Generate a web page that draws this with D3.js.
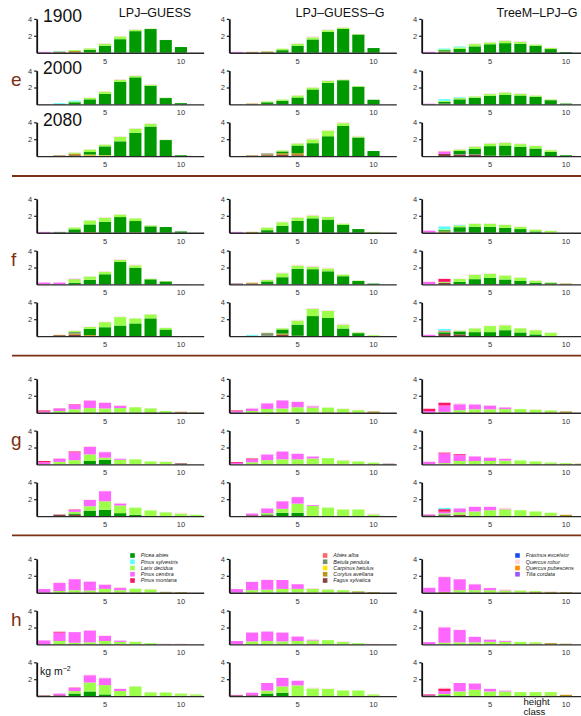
<!DOCTYPE html>
<html>
<head>
<meta charset="utf-8">
<script src="https://cdn.jsdelivr.net/npm/d3@7/dist/d3.min.js"></script>
<style>
  html, body { margin: 0; padding: 0; background: #fff; }
  svg { display: block; font-family: "Liberation Sans", Arial, Helvetica, sans-serif; }
</style>
</head>
<body>
<script>
// ---- categories and labels ----
const heightClasses = [1, 2, 3, 4, 5, 6, 7, 8, 9, 10, 11];
const xTickValues = [5, 10];
const yTickValues = [2, 4];
const groupLabels = ["e", "f", "g", "h"];
const yearLabels = ["1900", "2000", "2080"];
const modelNames = ["LPJ–GUESS", "LPJ–GUESS–G", "TreeM–LPJ–G"];

// ---- species ----
const speciesCodes = ["PA", "PS", "LD", "PC", "PM", "AA", "BP", "CB", "CA", "FS", "FE", "QR", "QP", "TC"];
const speciesNames = ["Picea abies", "Pinus sylvestris", "Larix decidua", "Pinus cembra", "Pinus montana",
  "Abies alba", "Betula pendula", "Carpinus betulus", "Corylus avellana", "Fagus sylvatica",
  "Fraxinus excelsior", "Quercus robur", "Quercus pubescens", "Tilia cordata"];
const speciesColors = ["#009a00", "#5cffff", "#9cff4a", "#ff66ff", "#ff1466",
  "#ff6666", "#748f6c", "#ffe600", "#b8961c", "#884040",
  "#1a4cf0", "#ffd8e0", "#ff8c00", "#9a55ff"];
// bottom-to-top order of the stacked segments
const stackOrder = ["FS", "CA", "BP", "CB", "QP", "PA", "LD", "PC", "PM", "AA", "PS", "FE", "TC", "QR"];

// ---- biomass per height class (kg m-2), one array per panel ----
// group e
const e_1900_lpj = [
  ["FS", [0, 0.05, 0.05, 0, 0, 0, 0, 0, 0, 0, 0]],
  ["CA", [0, 0.1, 0.15, 0.05, 0, 0, 0, 0, 0, 0, 0]],
  ["PA", [0, 0, 0, 0.3, 0.83, 1.6, 2.55, 2.8, 1.5, 0.67, 0]],
  ["LD", [0, 0, 0.1, 0.17, 0.24, 0.32, 0.17, 0.05, 0, 0, 0]],
  ["PC", [0.1, 0, 0, 0, 0, 0, 0, 0, 0, 0, 0]],
  ["PS", [0, 0.05, 0, 0, 0, 0, 0, 0, 0, 0, 0]],
  ["QR", [0, 0, 0, 0.03, 0.08, 0.08, 0.08, 0.05, 0.03, 0, 0.05]]
];
const e_1900_lpjg = [
  ["FS", [0, 0.05, 0.05, 0, 0, 0, 0, 0, 0, 0, 0]],
  ["CA", [0, 0.05, 0.1, 0, 0, 0, 0, 0, 0, 0, 0]],
  ["PA", [0, 0, 0, 0.3, 0.83, 1.57, 2.47, 2.82, 2.15, 0.55, 0]],
  ["LD", [0, 0, 0.03, 0.17, 0.24, 0.25, 0.2, 0.15, 0.05, 0, 0]],
  ["PC", [0.1, 0, 0, 0, 0, 0, 0, 0, 0, 0, 0]],
  ["QR", [0, 0, 0.02, 0.03, 0.08, 0.13, 0.08, 0.08, 0.03, 0, 0]]
];
const e_1900_treem = [
  ["FS", [0, 0.1, 0.05, 0, 0, 0, 0, 0, 0, 0, 0]],
  ["CA", [0, 0.05, 0, 0, 0, 0, 0, 0, 0, 0, 0]],
  ["PA", [0, 0.15, 0.4, 0.75, 1.0, 1.13, 1.06, 0.82, 0.43, 0.08, 0]],
  ["LD", [0, 0.1, 0.18, 0.27, 0.22, 0.27, 0.23, 0.15, 0.12, 0, 0]],
  ["PC", [0.1, 0, 0, 0, 0, 0, 0, 0, 0, 0, 0]],
  ["PS", [0, 0.1, 0.12, 0, 0, 0, 0, 0, 0, 0, 0]],
  ["QR", [0, 0, 0.03, 0.08, 0.08, 0.1, 0.08, 0.05, 0.05, 0, 0]]
];
const e_2000_lpj = [
  ["FS", [0.03, 0.05, 0, 0, 0, 0, 0, 0, 0, 0, 0]],
  ["PA", [0, 0, 0.25, 0.6, 1.25, 2.67, 3.2, 2.2, 0.75, 0.15, 0]],
  ["LD", [0, 0, 0.1, 0.17, 0.27, 0.25, 0.17, 0.12, 0.04, 0, 0]],
  ["PS", [0, 0.1, 0.1, 0, 0, 0, 0, 0, 0, 0, 0]],
  ["QR", [0, 0, 0, 0.05, 0.08, 0.08, 0.08, 0.08, 0.03, 0, 0]]
];
const e_2000_lpjg = [
  ["FS", [0.02, 0.05, 0, 0, 0, 0, 0, 0, 0, 0, 0]],
  ["CA", [0, 0.05, 0.05, 0, 0, 0, 0, 0, 0, 0, 0]],
  ["PA", [0, 0, 0.2, 0.43, 0.82, 1.77, 2.55, 2.86, 2.1, 0.55, 0]],
  ["LD", [0, 0, 0.1, 0.15, 0.23, 0.22, 0.23, 0.07, 0.07, 0, 0]],
  ["QR", [0, 0, 0, 0.04, 0.05, 0.05, 0.08, 0.05, 0.03, 0, 0]]
];
const e_2000_treem = [
  ["FS", [0.05, 0.1, 0.05, 0, 0, 0, 0, 0, 0, 0, 0]],
  ["PA", [0, 0.2, 0.55, 0.78, 1.02, 1.14, 1.05, 0.9, 0.5, 0.1, 0]],
  ["LD", [0, 0.12, 0.15, 0.17, 0.2, 0.28, 0.2, 0.15, 0.09, 0, 0]],
  ["PC", [0.03, 0, 0, 0, 0, 0, 0, 0, 0, 0, 0]],
  ["PS", [0, 0.2, 0.1, 0, 0, 0, 0, 0, 0, 0, 0]],
  ["QR", [0, 0, 0.05, 0.05, 0.08, 0.08, 0.08, 0.05, 0.03, 0, 0]]
];
const e_2080_lpj = [
  ["FS", [0, 0.05, 0.1, 0, 0, 0, 0, 0, 0, 0, 0]],
  ["CA", [0, 0.05, 0.2, 0.1, 0.05, 0, 0, 0, 0, 0, 0]],
  ["CB", [0, 0, 0, 0.08, 0.05, 0, 0, 0, 0, 0, 0]],
  ["PA", [0, 0, 0, 0.3, 1.05, 1.75, 2.75, 3.5, 1.9, 0.1, 0]],
  ["LD", [0, 0, 0.12, 0.3, 0.2, 0.52, 0.5, 0.32, 0.03, 0, 0]],
  ["QR", [0, 0, 0.05, 0.04, 0.05, 0.08, 0.08, 0.08, 0.03, 0, 0]]
];
const e_2080_lpjg = [
  ["FS", [0, 0.05, 0.1, 0.15, 0.1, 0, 0, 0, 0, 0, 0]],
  ["CA", [0, 0.05, 0.1, 0.2, 0.25, 0, 0, 0, 0, 0, 0]],
  ["BP", [0, 0, 0.13, 0, 0, 0, 0, 0, 0, 0, 0]],
  ["PA", [0, 0, 0, 0.2, 0.9, 1.53, 2.35, 3.57, 2.2, 0.6, 0]],
  ["LD", [0, 0, 0, 0.12, 0.25, 0.45, 0.67, 0.33, 0.12, 0, 0]],
  ["QR", [0, 0, 0.05, 0.03, 0.06, 0.12, 0.08, 0.1, 0.08, 0, 0]]
];
const e_2080_treem = [
  ["FS", [0, 0.25, 0.15, 0.15, 0.05, 0.05, 0, 0, 0, 0, 0]],
  ["BP", [0, 0, 0.1, 0.1, 0, 0, 0, 0, 0, 0, 0]],
  ["PA", [0, 0, 0.35, 0.61, 1.13, 1.2, 1.1, 0.9, 0.5, 0.1, 0]],
  ["LD", [0, 0, 0.18, 0.26, 0.31, 0.33, 0.32, 0.3, 0.2, 0, 0]],
  ["PC", [0, 0.25, 0, 0, 0, 0, 0, 0, 0, 0, 0]],
  ["PM", [0, 0.05, 0, 0, 0, 0, 0, 0, 0, 0, 0]],
  ["QR", [0, 0.07, 0.08, 0.08, 0.08, 0.1, 0.08, 0.05, 0.05, 0, 0]]
];

// group f
const f_1900_lpj = [
  ["CA", [0, 0, 0, 0.08, 0, 0, 0.05, 0, 0, 0, 0]],
  ["BP", [0, 0.1, 0, 0, 0, 0, 0, 0, 0, 0, 0]],
  ["PA", [0, 0, 0.4, 0.9, 1.3, 1.85, 1.33, 0.75, 0.67, 0.15, 0]],
  ["LD", [0, 0, 0.22, 0.47, 0.47, 0.3, 0.32, 0.12, 0, 0, 0]],
  ["PC", [0.1, 0, 0, 0, 0, 0, 0, 0, 0, 0, 0]],
  ["QR", [0, 0, 0.03, 0.03, 0.08, 0.05, 0.03, 0.03, 0, 0, 0]]
];
const f_1900_lpjg = [
  ["CA", [0, 0.1, 0, 0, 0, 0, 0, 0, 0, 0, 0]],
  ["PA", [0, 0, 0.3, 0.82, 1.4, 1.7, 1.55, 0.93, 0.43, 0, 0]],
  ["LD", [0, 0, 0.3, 0.42, 0.38, 0.33, 0.3, 0.14, 0, 0.1, 0]],
  ["PC", [0.1, 0, 0, 0, 0, 0, 0, 0, 0, 0, 0]],
  ["QR", [0, 0, 0.02, 0.08, 0.08, 0.1, 0.05, 0.03, 0, 0, 0]]
];
const f_1900_treem = [
  ["CA", [0, 0.15, 0, 0, 0, 0, 0, 0, 0, 0, 0]],
  ["BP", [0, 0, 0.1, 0, 0, 0, 0, 0, 0, 0, 0]],
  ["PA", [0, 0.15, 0.55, 0.7, 0.7, 0.58, 0.43, 0.15, 0, 0, 0]],
  ["LD", [0, 0.1, 0.2, 0.35, 0.35, 0.34, 0.26, 0.22, 0.22, 0, 0]],
  ["PC", [0.25, 0, 0, 0, 0, 0, 0, 0, 0, 0, 0]],
  ["PS", [0, 0.35, 0.07, 0, 0, 0, 0, 0, 0, 0, 0]],
  ["QR", [0.05, 0.03, 0.05, 0.05, 0.05, 0.05, 0.05, 0.03, 0.03, 0, 0]]
];
const f_2000_lpj = [
  ["PA", [0, 0, 0.2, 0.55, 1.2, 2.67, 1.96, 0.6, 0.35, 0.03, 0]],
  ["LD", [0, 0, 0.42, 0.38, 0.3, 0.23, 0.3, 0.07, 0.05, 0, 0]],
  ["PC", [0.22, 0.22, 0.05, 0, 0, 0, 0, 0, 0, 0, 0]],
  ["QR", [0, 0, 0.03, 0.05, 0.07, 0.08, 0.09, 0.03, 0, 0, 0]]
];
const f_2000_lpjg = [
  ["FS", [0.1, 0.1, 0, 0, 0, 0, 0, 0, 0, 0, 0]],
  ["CA", [0, 0.1, 0.05, 0, 0, 0, 0, 0, 0, 0, 0]],
  ["PA", [0, 0, 0.3, 0.85, 1.86, 1.8, 1.55, 0.97, 0.4, 0.1, 0]],
  ["LD", [0, 0, 0.18, 0.47, 0.37, 0.27, 0.33, 0.2, 0.05, 0, 0]],
  ["QR", [0, 0, 0.05, 0.08, 0.1, 0.13, 0.1, 0.03, 0.02, 0, 0]]
];
const f_2000_treem = [
  ["FS", [0, 0.2, 0, 0, 0, 0, 0, 0, 0, 0, 0]],
  ["CA", [0, 0, 0.05, 0, 0, 0, 0, 0, 0.08, 0.1, 0]],
  ["PA", [0, 0, 0.25, 0.62, 0.78, 0.58, 0.4, 0.2, 0.1, 0, 0]],
  ["LD", [0, 0.1, 0.35, 0.5, 0.47, 0.47, 0.4, 0.24, 0.05, 0, 0]],
  ["PC", [0.3, 0, 0, 0, 0, 0, 0, 0, 0, 0, 0]],
  ["PM", [0, 0.35, 0, 0, 0, 0, 0, 0, 0, 0, 0]],
  ["QR", [0.05, 0.09, 0.05, 0.08, 0.07, 0.05, 0.05, 0.03, 0, 0, 0]]
];
const f_2080_lpj = [
  ["FS", [0, 0.1, 0.15, 0, 0, 0, 0, 0, 0, 0, 0]],
  ["CA", [0, 0.05, 0.15, 0, 0, 0, 0, 0, 0, 0, 0]],
  ["BP", [0, 0, 0.15, 0, 0, 0, 0, 0, 0, 0, 0]],
  ["QP", [0, 0, 0, 0.1, 0, 0, 0, 0, 0, 0, 0]],
  ["PA", [0, 0, 0.05, 0.76, 1.05, 1.25, 1.5, 2.1, 0.78, 0, 0]],
  ["LD", [0, 0, 0.12, 0.22, 0.6, 1.0, 0.6, 0.47, 0.19, 0, 0]],
  ["QR", [0, 0, 0.05, 0.05, 0.07, 0.05, 0.05, 0.05, 0.03, 0, 0]]
];
const f_2080_lpjg = [
  ["FS", [0, 0, 0.05, 0.15, 0.05, 0, 0, 0, 0, 0, 0]],
  ["CA", [0, 0, 0, 0.15, 0, 0, 0, 0, 0, 0, 0]],
  ["BP", [0, 0.05, 0.3, 0, 0, 0, 0, 0, 0, 0, 0]],
  ["PA", [0, 0, 0, 0.48, 1.31, 2.37, 2.14, 0.9, 0.35, 0, 0]],
  ["LD", [0, 0, 0.05, 0.15, 0.47, 0.86, 0.83, 0.45, 0.1, 0.1, 0]],
  ["PS", [0, 0.1, 0, 0, 0, 0, 0, 0, 0, 0, 0]],
  ["QR", [0, 0, 0.05, 0.04, 0.1, 0.1, 0.1, 0.12, 0.05, 0, 0]]
];
const f_2080_treem = [
  ["FS", [0, 0.25, 0.2, 0, 0, 0, 0, 0, 0, 0, 0]],
  ["PA", [0, 0.2, 0.35, 0.47, 0.47, 0.7, 0.43, 0.2, 0, 0, 0]],
  ["LD", [0, 0.1, 0.1, 0.45, 0.72, 0.58, 0.5, 0.5, 0.4, 0, 0]],
  ["PC", [0.15, 0, 0, 0, 0, 0, 0, 0, 0, 0, 0]],
  ["PM", [0, 0.1, 0, 0, 0, 0, 0, 0, 0, 0, 0]],
  ["PS", [0, 0.2, 0, 0, 0, 0, 0, 0, 0, 0, 0]],
  ["QR", [0, 0, 0.05, 0.05, 0.05, 0.08, 0.04, 0.04, 0.03, 0, 0]]
];

// group g
const g_1900_lpj = [
  ["CA", [0, 0, 0, 0, 0, 0, 0, 0.07, 0, 0.12, 0]],
  ["LD", [0, 0.2, 0.4, 0.55, 0.5, 0.55, 0.65, 0.45, 0.2, 0, 0.05]],
  ["PC", [0.15, 0.3, 0.55, 0.9, 0.68, 0.25, 0, 0, 0, 0, 0]],
  ["PM", [0.12, 0.03, 0.05, 0, 0, 0, 0, 0, 0, 0, 0]],
  ["QR", [0, 0.02, 0, 0.05, 0.07, 0.1, 0.02, 0.03, 0, 0.08, 0]]
];
const g_1900_lpjg = [
  ["CA", [0, 0, 0, 0, 0, 0, 0.05, 0, 0, 0.15, 0]],
  ["LD", [0, 0.2, 0.45, 0.5, 0.65, 0.61, 0.55, 0.45, 0.3, 0, 0]],
  ["PC", [0.17, 0.3, 0.65, 0.95, 0.63, 0.15, 0, 0, 0, 0, 0]],
  ["PM", [0.1, 0, 0, 0, 0, 0, 0, 0, 0, 0, 0]],
  ["QR", [0, 0.08, 0, 0, 0.05, 0.1, 0.02, 0.05, 0.05, 0, 0]]
];
const g_1900_treem = [
  ["CA", [0, 0, 0, 0, 0, 0, 0, 0, 0.07, 0.15, 0]],
  ["LD", [0, 0.1, 0.3, 0.4, 0.4, 0.43, 0.43, 0.35, 0.2, 0, 0]],
  ["PC", [0.2, 0.75, 0.7, 0.57, 0.45, 0.2, 0, 0, 0, 0, 0]],
  ["PM", [0.27, 0.34, 0, 0, 0, 0, 0, 0, 0, 0, 0]],
  ["QR", [0.03, 0.05, 0.12, 0, 0.05, 0.03, 0, 0.05, 0, 0, 0]]
];
const g_2000_lpj = [
  ["FS", [0, 0, 0, 0, 0, 0, 0, 0, 0, 0.12, 0]],
  ["PA", [0, 0, 0, 0.4, 0.55, 0, 0, 0, 0, 0, 0]],
  ["LD", [0, 0.3, 0.5, 0.78, 0.25, 0.55, 0.6, 0.35, 0.3, 0, 0]],
  ["PC", [0.25, 0.4, 0.93, 0.9, 0.65, 0.12, 0, 0, 0, 0, 0]],
  ["PM", [0.15, 0, 0.1, 0, 0, 0, 0, 0, 0, 0, 0]],
  ["QR", [0, 0.04, 0, 0.07, 0.05, 0.03, 0, 0, 0.05, 0, 0]]
];
const g_2000_lpjg = [
  ["FS", [0, 0, 0, 0, 0, 0, 0, 0, 0, 0, 0.08]],
  ["CA", [0, 0, 0, 0, 0, 0, 0, 0, 0.05, 0.05, 0]],
  ["LD", [0, 0.25, 0.5, 0.6, 0.6, 0.7, 0.74, 0.47, 0.3, 0.15, 0]],
  ["PC", [0.17, 0.35, 0.67, 0.92, 0.65, 0.23, 0, 0, 0, 0, 0]],
  ["PM", [0.1, 0.1, 0, 0, 0, 0, 0, 0, 0, 0, 0]],
  ["QR", [0, 0, 0, 0, 0.07, 0, 0, 0.07, 0, 0, 0]]
];
const g_2000_treem = [
  ["CA", [0, 0, 0, 0, 0, 0, 0, 0.05, 0.08, 0.05, 0.08]],
  ["LD", [0, 0.15, 0.4, 0.4, 0.4, 0.45, 0.47, 0.3, 0.15, 0.1, 0]],
  ["PC", [0.3, 1.15, 0.7, 0.55, 0.4, 0.2, 0, 0, 0, 0, 0]],
  ["PM", [0, 0.1, 0.1, 0, 0, 0, 0, 0, 0, 0, 0]],
  ["QR", [0.08, 0.03, 0, 0.02, 0.05, 0.09, 0, 0, 0, 0, 0]]
];
const g_2080_lpj = [
  ["FS", [0, 0.18, 0.15, 0, 0, 0, 0, 0, 0, 0, 0]],
  ["PA", [0, 0, 0.15, 0.65, 0.75, 0.35, 0.15, 0, 0, 0, 0]],
  ["LD", [0, 0, 0.2, 0.52, 1.0, 0.9, 0.85, 0.67, 0.45, 0.3, 0.15]],
  ["PC", [0, 0, 0.23, 0.74, 1.2, 0.25, 0, 0, 0, 0, 0]],
  ["PM", [0, 0, 0.05, 0, 0, 0, 0, 0, 0, 0, 0]],
  ["QR", [0, 0, 0, 0.05, 0.05, 0.07, 0, 0, 0.05, 0.1, 0]]
];
const g_2080_lpjg = [
  ["FS", [0, 0.1, 0.1, 0, 0, 0, 0, 0, 0, 0, 0]],
  ["PA", [0, 0, 0.1, 0.4, 0.4, 0, 0, 0, 0, 0, 0]],
  ["LD", [0, 0, 0.15, 0.46, 1.07, 1.2, 1.0, 0.78, 0.78, 0.2, 0]],
  ["PC", [0, 0.2, 0.55, 0.9, 0.78, 0.1, 0, 0, 0, 0, 0]],
  ["QR", [0, 0, 0, 0.04, 0.05, 0.02, 0, 0, 0, 0.1, 0]]
];
const g_2080_treem = [
  ["FS", [0.1, 0.1, 0.15, 0, 0, 0, 0, 0, 0, 0, 0]],
  ["CA", [0, 0, 0, 0, 0, 0, 0, 0, 0.07, 0.15, 0]],
  ["PA", [0, 0.1, 0, 0, 0, 0, 0, 0, 0, 0, 0]],
  ["LD", [0, 0.12, 0.3, 0.55, 0.7, 0.8, 0.7, 0.55, 0.33, 0, 0]],
  ["PC", [0.1, 0.2, 0.45, 0.55, 0.4, 0.05, 0, 0, 0, 0, 0]],
  ["PM", [0, 0.3, 0, 0, 0, 0, 0, 0, 0, 0, 0]],
  ["PS", [0, 0.15, 0, 0, 0, 0, 0, 0, 0, 0, 0]],
  ["QR", [0, 0, 0, 0.03, 0.03, 0.15, 0, 0, 0, 0, 0]]
];

// group h
const h_1900_lpj = [
  ["CA", [0, 0, 0, 0, 0, 0, 0, 0, 0.1, 0.08, 0]],
  ["LD", [0, 0.2, 0.3, 0.25, 0.45, 0.3, 0.47, 0.4, 0, 0, 0]],
  ["PC", [0.43, 0.95, 1.3, 1.07, 0.5, 0.25, 0, 0, 0, 0, 0]],
  ["QR", [0, 0.07, 0.05, 0.05, 0.05, 0.12, 0, 0.07, 0, 0, 0]]
];
const h_1900_lpjg = [
  ["FS", [0, 0, 0, 0, 0, 0, 0, 0, 0.05, 0, 0]],
  ["CA", [0, 0, 0, 0, 0, 0, 0, 0.05, 0.1, 0.08, 0]],
  ["LD", [0, 0.3, 0.35, 0.45, 0.45, 0.45, 0.38, 0.25, 0.05, 0, 0]],
  ["PC", [0.43, 0.98, 1.15, 1.05, 0.55, 0, 0, 0, 0, 0, 0]],
  ["QR", [0, 0, 0.05, 0, 0, 0.1, 0.05, 0, 0, 0, 0]]
];
const h_1900_treem = [
  ["CA", [0, 0.1, 0, 0, 0, 0, 0, 0.1, 0.1, 0.08, 0]],
  ["LD", [0, 0, 0.3, 0.3, 0.3, 0.25, 0.25, 0.1, 0, 0, 0]],
  ["PC", [0.58, 1.75, 1.3, 0.7, 0.25, 0.05, 0, 0, 0, 0, 0]],
  ["QR", [0, 0.08, 0.02, 0.05, 0.03, 0.1, 0.05, 0, 0.05, 0, 0]]
];
const h_2000_lpj = [
  ["LD", [0, 0.4, 0.2, 0.25, 0.4, 0.3, 0.3, 0.15, 0, 0, 0]],
  ["PC", [0.47, 1.0, 1.25, 1.4, 0.6, 0.15, 0, 0, 0, 0, 0]],
  ["PM", [0, 0.1, 0, 0, 0, 0, 0, 0, 0, 0, 0]],
  ["QR", [0, 0.03, 0, 0.05, 0.06, 0.02, 0.05, 0, 0.1, 0.1, 0]]
];
const h_2000_lpjg = [
  ["LD", [0, 0.35, 0.4, 0.35, 0.4, 0.45, 0.5, 0.28, 0.15, 0, 0]],
  ["PC", [0.4, 1.05, 1.12, 1.05, 0.53, 0.1, 0, 0, 0, 0, 0]],
  ["QR", [0, 0, 0, 0, 0, 0.03, 0, 0.07, 0, 0.08, 0]]
];
const h_2000_treem = [
  ["CA", [0, 0, 0, 0, 0, 0, 0, 0.1, 0.15, 0.08, 0]],
  ["LD", [0, 0.2, 0.25, 0.25, 0.3, 0.3, 0.3, 0.15, 0, 0, 0]],
  ["PC", [0.27, 1.82, 1.45, 0.65, 0.27, 0.1, 0, 0, 0, 0, 0]],
  ["QR", [0, 0.08, 0.05, 0, 0.05, 0.07, 0, 0, 0, 0, 0]]
];
const h_2080_lpj = [
  ["FS", [0.08, 0.1, 0, 0, 0, 0, 0, 0, 0, 0, 0]],
  ["CA", [0, 0, 0, 0, 0, 0, 0, 0, 0, 0.05, 0.05]],
  ["PA", [0, 0, 0.3, 0.55, 0.2, 0, 0, 0, 0, 0, 0]],
  ["LD", [0, 0, 0.3, 1.05, 1.1, 0.6, 1.15, 0.45, 0.43, 0.25, 0.15]],
  ["PC", [0, 0.2, 0.35, 0.87, 0.82, 0.25, 0, 0, 0, 0, 0]],
  ["PM", [0, 0, 0.05, 0, 0, 0, 0, 0, 0, 0, 0]],
  ["QR", [0, 0, 0, 0.08, 0.08, 0.05, 0.05, 0.05, 0, 0, 0]]
];
const h_2080_lpjg = [
  ["FS", [0.1, 0.1, 0, 0, 0, 0, 0, 0, 0, 0, 0]],
  ["CA", [0, 0, 0, 0, 0, 0, 0, 0, 0, 0.05, 0]],
  ["PA", [0, 0, 0.3, 0.4, 0, 0, 0, 0, 0, 0, 0]],
  ["LD", [0, 0, 0.35, 0.75, 1.27, 0.9, 0.85, 0.67, 0.67, 0.15, 0]],
  ["PC", [0.05, 0.3, 0.9, 1.0, 0.55, 0, 0, 0, 0, 0, 0]],
  ["QR", [0, 0, 0, 0.05, 0, 0.1, 0.05, 0, 0, 0, 0]]
];
const h_2080_treem = [
  ["FS", [0.1, 0, 0, 0, 0, 0, 0, 0, 0, 0, 0]],
  ["CA", [0, 0, 0, 0, 0, 0, 0, 0, 0.07, 0.15, 0]],
  ["PA", [0, 0.1, 0, 0, 0, 0, 0, 0, 0, 0, 0]],
  ["LD", [0, 0.15, 0.55, 0.75, 0.55, 0.55, 0.47, 0.47, 0.4, 0, 0]],
  ["PC", [0.08, 0.35, 1.0, 0.75, 0.3, 0.1, 0, 0, 0, 0, 0]],
  ["PM", [0.05, 0.3, 0, 0, 0, 0, 0, 0, 0, 0, 0]],
  ["QR", [0, 0.1, 0, 0.05, 0.05, 0.02, 0, 0, 0, 0, 0]]
];

// panels arranged [group][year][model]
const panelGrid = [
  [[e_1900_lpj, e_1900_lpjg, e_1900_treem], [e_2000_lpj, e_2000_lpjg, e_2000_treem], [e_2080_lpj, e_2080_lpjg, e_2080_treem]],
  [[f_1900_lpj, f_1900_lpjg, f_1900_treem], [f_2000_lpj, f_2000_lpjg, f_2000_treem], [f_2080_lpj, f_2080_lpjg, f_2080_treem]],
  [[g_1900_lpj, g_1900_lpjg, g_1900_treem], [g_2000_lpj, g_2000_lpjg, g_2000_treem], [g_2080_lpj, g_2080_lpjg, g_2080_treem]],
  [[h_1900_lpj, h_1900_lpjg, h_1900_treem], [h_2000_lpj, h_2000_lpjg, h_2000_treem], [h_2080_lpj, h_2080_lpjg, h_2080_treem]]
];

// ---- layout ----
const W = 581, H = 716;
const colAxisX = [36.7, 229.3, 421.7];
const firstBaseline = 52.7, rowStep = 51.7, groupStep = 180;
const plotH = 33.8, plotW = 167;
const accent = "#7d2f14";

const color = d3.scaleOrdinal().domain(speciesCodes).range(speciesColors);

const svg = d3.select("body").append("svg")
  .attr("width", W).attr("height", H)
  .attr("viewBox", `0 0 ${W} ${H}`);

svg.append("rect").attr("width", W).attr("height", H).attr("fill", "#fff");

const x = d3.scaleBand().domain(heightClasses).range([0, plotW])
  .paddingInner(0.2).paddingOuter(0.1);
const y = d3.scaleLinear().domain([0, 4]).range([plotH, 0]);

const stack = d3.stack();

panelGrid.forEach((group, gi) => {
  group.forEach((row, ri) => {
    const baseline = firstBaseline + gi * groupStep + ri * rowStep;
    row.forEach((panel, ci) => {
      const g = svg.append("g")
        .attr("transform", `translate(${colAxisX[ci]},${baseline - plotH})`);

      const keys = stackOrder.filter(k => panel.some(l => l[0] === k));
      const rows = heightClasses.map((h, i) => {
        const r = { cls: h };
        keys.forEach(k => { r[k] = panel.find(l => l[0] === k)[1][i]; });
        return r;
      });
      const series = stack.keys(keys)(rows);

      g.append("g").selectAll("g")
        .data(series)
        .join("g")
        .attr("fill", d => color(d.key))
        .selectAll("rect")
        .data(d => d.filter(s => s[1] > s[0]))
        .join("rect")
        .attr("x", d => x(d.data.cls))
        .attr("width", x.bandwidth())
        .attr("y", d => y(d[1]))
        .attr("height", d => y(d[0]) - y(d[1]));

      // x axis
      const xa = g.append("g")
        .attr("transform", `translate(0,${plotH})`)
        .call(d3.axisBottom(x).tickValues(xTickValues).tickSize(0).tickPadding(5.5));
      xa.attr("font-family", null).attr("font-size", null);
      xa.select(".domain").attr("stroke", "#2a2a2a").attr("stroke-width", 1.4);
      xa.selectAll("text").attr("font-size", "7.5px").attr("fill", "#333");

      // y axis
      const ya = g.append("g")
        .call(d3.axisLeft(y).tickValues(yTickValues).tickFormat(d3.format("d"))
          .tickSize(2.5).tickSizeOuter(0).tickPadding(2));
      ya.attr("font-family", null).attr("font-size", null);
      ya.select(".domain").attr("stroke", "#111").attr("stroke-width", 1.8);
      ya.selectAll(".tick line").attr("stroke", "#111").attr("stroke-width", 1.2);
      ya.selectAll("text").attr("font-size", "7.5px").attr("fill", "#333");
    });
  });
});

// year labels in the first column of group e
yearLabels.forEach((yr, ri) => {
  svg.append("text")
    .attr("x", 43).attr("y", firstBaseline + ri * rowStep - 30.5)
    .attr("font-size", "17.5px").attr("fill", "#111")
    .text(yr);
});

// model titles
const titleX = [155, 340, 537];
modelNames.forEach((m, ci) => {
  svg.append("text")
    .attr("x", titleX[ci]).attr("y", 17)
    .attr("text-anchor", "middle")
    .attr("font-size", "12.5px").attr("fill", "#111")
    .text(m);
});

// group letters and separators
groupLabels.forEach((lab, gi) => {
  const midBaseline = firstBaseline + gi * groupStep + rowStep;
  svg.append("text")
    .attr("x", 11).attr("y", midBaseline - 18)
    .attr("font-size", "19px").attr("fill", accent)
    .text(lab);
  if (gi > 0) {
    const ySep = 176 + (gi - 1) * 179.7;
    svg.append("line")
      .attr("x1", 12).attr("x2", W)
      .attr("y1", ySep).attr("y2", ySep)
      .attr("stroke", accent).attr("stroke-width", 1.8);
  }
});

// species legend in the first row of group h, one block per column
const legendBlocks = [speciesCodes.slice(0, 5), speciesCodes.slice(5, 10), speciesCodes.slice(10)];
legendBlocks.forEach((codes, ci) => {
  const lg = svg.append("g")
    .attr("transform", `translate(${colAxisX[ci] + 93.5},555.5)`);
  codes.forEach((code, i) => {
    lg.append("rect")
      .attr("x", 0).attr("y", i * 6.25 - 2.3)
      .attr("width", 4.6).attr("height", 4.6)
      .attr("fill", color(code));
    lg.append("text")
      .attr("x", 10.5).attr("y", i * 6.25)
      .attr("dy", "0.35em")
      .attr("font-size", "5.4px").attr("font-style", "italic").attr("fill", "#222")
      .text(speciesNames[speciesCodes.indexOf(code)]);
  });
});

// unit label
const unit = svg.append("text")
  .attr("x", 40).attr("y", 675)
  .attr("font-size", "10.5px").attr("fill", "#111");
unit.append("tspan").text("kg m");
unit.append("tspan").attr("dy", -4).attr("font-size", "7px").text("−2");

// axis title for height classes, two lines
[["height", 704.6], ["class", 715]].forEach(([word, yy]) => {
  svg.append("text")
    .attr("x", 523.5).attr("y", yy)
    .attr("font-size", "9.6px").attr("fill", "#111")
    .text(word);
});
</script>
</body>
</html>
